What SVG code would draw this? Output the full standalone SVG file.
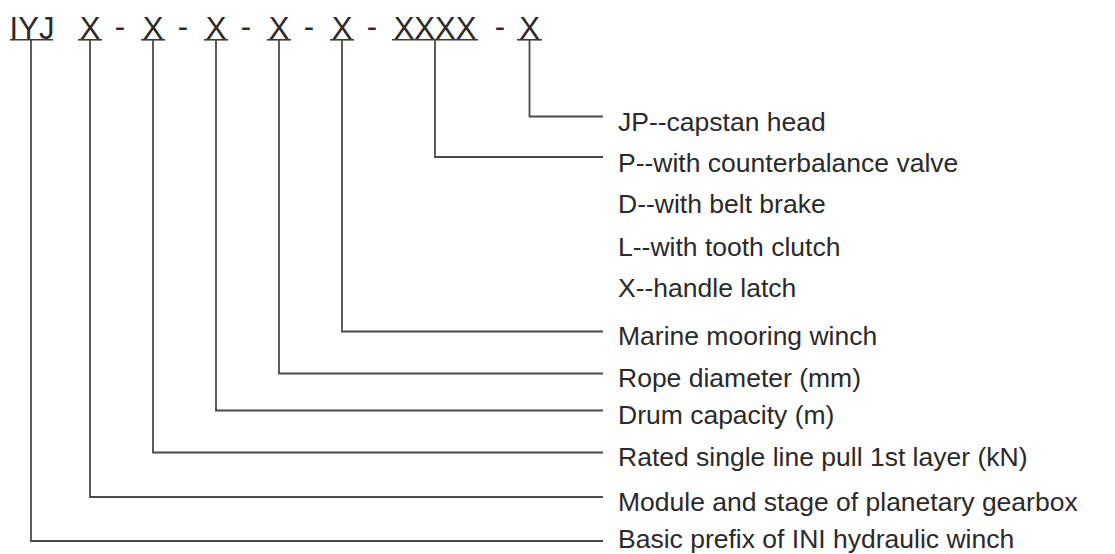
<svg xmlns="http://www.w3.org/2000/svg" width="1115" height="554" viewBox="0 0 1115 554">
<style>
.code{font-family:"Liberation Sans",Arial,sans-serif;font-size:31px;fill:#2a2a2a;text-anchor:middle}
.lbl{font-family:"Liberation Sans",Arial,sans-serif;font-size:26.5px;fill:#2a2a2a}
.ul{stroke:#3a3a3a;stroke-width:1.6;fill:none}
.conn{stroke:#4a4a4a;stroke-width:1.8;fill:none}
</style>
<rect width="1115" height="554" fill="#ffffff"/>
<g id="code">
<g id="seg-iyj"><text class="code" x="32" y="39">IYJ</text><line class="ul" x1="10" y1="39.8" x2="53" y2="39.8"/></g>
<g id="seg-x1"><text class="code" x="90" y="39">X</text><line class="ul" x1="78" y1="39.8" x2="102" y2="39.8"/></g>
<text class="code" x="120" y="37">-</text>
<g id="seg-x2"><text class="code" x="153" y="39">X</text><line class="ul" x1="141" y1="39.8" x2="165" y2="39.8"/></g>
<text class="code" x="183" y="37">-</text>
<g id="seg-x3"><text class="code" x="216" y="39">X</text><line class="ul" x1="204" y1="39.8" x2="228" y2="39.8"/></g>
<text class="code" x="246" y="37">-</text>
<g id="seg-x4"><text class="code" x="279" y="39">X</text><line class="ul" x1="267" y1="39.8" x2="291" y2="39.8"/></g>
<text class="code" x="309" y="37">-</text>
<g id="seg-x5"><text class="code" x="342" y="39">X</text><line class="ul" x1="330" y1="39.8" x2="354" y2="39.8"/></g>
<text class="code" x="372" y="37">-</text>
<g id="seg-xxxx"><text class="code" x="435" y="39">XXXX</text><line class="ul" x1="392" y1="39.8" x2="478" y2="39.8"/></g>
<text class="code" x="500" y="37">-</text>
<g id="seg-x6"><text class="code" x="529.5" y="39">X</text><line class="ul" x1="517" y1="39.8" x2="542" y2="39.8"/></g>
</g>
<g id="connectors">
<path class="conn" d="M529.5 40V116.5H603"/>
<path class="conn" d="M435 40V157H603"/>
<path class="conn" d="M342 40V331.5H603"/>
<path class="conn" d="M279 40V373.5H603"/>
<path class="conn" d="M216 40V410.5H603"/>
<path class="conn" d="M153 40V452.5H603"/>
<path class="conn" d="M90 40V497H603"/>
<path class="conn" d="M31 40V541H603"/>
</g>
<g id="label-jp"><text class="lbl" x="618" y="131">JP--capstan head</text></g>
<g id="label-p"><text class="lbl" x="618" y="172">P--with counterbalance valve</text></g>
<g id="label-d"><text class="lbl" x="618" y="213">D--with belt brake</text></g>
<g id="label-l"><text class="lbl" x="618" y="256">L--with tooth clutch</text></g>
<g id="label-x"><text class="lbl" x="618" y="297">X--handle latch</text></g>
<g id="label-marine"><text class="lbl" x="618" y="345">Marine mooring winch</text></g>
<g id="label-rope"><text class="lbl" x="618" y="387">Rope diameter (mm)</text></g>
<g id="label-drum"><text class="lbl" x="618" y="424">Drum capacity (m)</text></g>
<g id="label-rated"><text class="lbl" x="618" y="466">Rated single line pull 1st layer (kN)</text></g>
<g id="label-module"><text class="lbl" x="618" y="511">Module and stage of planetary gearbox</text></g>
<g id="label-basic"><text class="lbl" x="618" y="548">Basic prefix of INI hydraulic winch</text></g>
</svg>
